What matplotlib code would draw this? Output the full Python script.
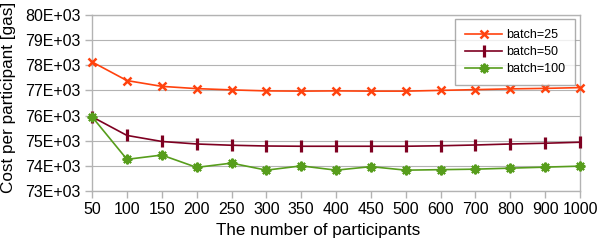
import matplotlib.pyplot as plt
import numpy as np

plt.rcParams['font.family'] = ['Liberation Sans', 'DejaVu Sans']

participants = ['50', '100', '150', '200', '250', '300', '350', '400', '450',
                '500', '600', '700', '800', '900', '1000']

# cost per participant, in thousands of gas
batch_25 = [78.13, 77.39, 77.16, 77.07, 77.02, 76.98, 76.97, 76.98, 76.97,
            76.97, 77.00, 77.03, 77.06, 77.08, 77.11]
batch_50 = [75.95, 75.21, 74.97, 74.87, 74.82, 74.79, 74.78, 74.78, 74.78,
            74.78, 74.80, 74.83, 74.87, 74.90, 74.94]
batch_100 = [75.95, 74.26, 74.43, 73.94, 74.11, 73.83, 74.00, 73.83, 73.97,
             73.83, 73.85, 73.87, 73.91, 73.95, 73.99]

y_ticks = [73, 74, 75, 76, 77, 78, 79, 80]
y_tick_labels = ['%dE+03' % v for v in y_ticks]

fig = plt.figure(figsize=(5.98, 2.44), dpi=100)
ax = fig.add_axes([0.154, 0.217, 0.816, 0.722])

x = np.arange(len(participants))
ax.plot(x, batch_25, color='#ff420e', marker='x', markersize=5.5, markeredgewidth=1.8,
        linewidth=1.2, label='batch=25', clip_on=False, zorder=4)
ax.plot(x, batch_50, color='#7e0021', marker='|', markersize=8, markeredgewidth=2.3,
        linewidth=1.2, label='batch=50', clip_on=False, zorder=4)
ax.plot(x, batch_100, color='#579d1c', marker=(8, 2, 0), markersize=7, markeredgewidth=1.5,
        linewidth=1.2, label='batch=100', clip_on=False, zorder=4)

ax.set_xlim(0, len(participants) - 1)
ax.set_ylim(73, 80)
ax.set_xticks(x)
ax.set_xticklabels(participants, fontsize=11.5)
ax.set_yticks(y_ticks)
ax.set_yticklabels(y_tick_labels, fontsize=11.5)

ax.grid(axis='y', color='#b3b3b3', linewidth=0.8)
ax.set_axisbelow(True)
for side in ax.spines.values():
    side.set_color('#b3b3b3')
    side.set_linewidth(1)
ax.tick_params(axis='both', color='#b3b3b3', length=5, width=1, pad=3, labelcolor='black')

ax.set_xlabel('The number of participants', fontsize=12.3)
ax.set_ylabel('Cost per participant [gas]', fontsize=12.3)
ax.xaxis.set_label_coords(0.464, -0.18)
ax.yaxis.set_label_coords(-0.155, 0.531)

leg = ax.legend(loc='upper right', bbox_to_anchor=(0.99, 0.976), borderaxespad=0,
                fontsize=9, frameon=True, fancybox=False, edgecolor='#999999',
                borderpad=0.8, handlelength=3, handletextpad=0.3, labelspacing=0.4)
leg.get_frame().set_linewidth(1)

fig.savefig('out.png', dpi=100)
